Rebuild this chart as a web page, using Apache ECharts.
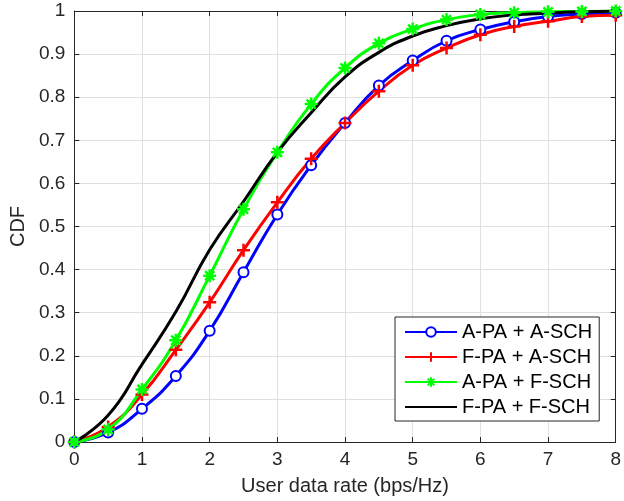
<!DOCTYPE html>
<html>
<head>
<meta charset="utf-8">
<script src="https://cdn.jsdelivr.net/npm/echarts@6/dist/echarts.min.js"></script>
<style>html,body{margin:0;padding:0;background:#fff;}#c{width:624px;height:501px;}</style>
</head>
<body>
<div id="c"></div>
<script>
const xVals = [0,0.5,1,1.5,2,2.5,3,3.5,4,4.5,5,5.5,6,6.5,7,7.5,8];
const seriesNames = ['A-PA + A-SCH','F-PA + A-SCH','A-PA + F-SCH','F-PA + F-SCH'];
const blueVals  = [0,0.022,0.077,0.153,0.258,0.394,0.528,0.642,0.740,0.827,0.885,0.931,0.957,0.975,0.987,0.993,0.996];
const redVals   = [0,0.035,0.110,0.214,0.324,0.445,0.556,0.657,0.740,0.814,0.874,0.914,0.945,0.964,0.976,0.987,0.990];
const greenVals = [0,0.029,0.122,0.236,0.386,0.540,0.672,0.784,0.868,0.925,0.958,0.980,0.992,0.996,0.998,0.999,1.000];
const blackVals = [0,0.062,0.180,0.302,0.446,0.558,0.672,0.764,0.847,0.904,0.942,0.966,0.982,0.991,0.995,0.998,1.000];
const xTicks = [0,1,2,3,4,5,6,7,8];

const axisColor = '#262626';
const font = 'Liberation Sans, Arial, sans-serif';
const pair = vals => xVals.map((x,i)=>[x, vals[i]]);

const plusPath = 'path://M0,5L10,5M5,0L5,10';
const starPath = 'path://M0,5L10,5M5,0L5,10M1.5,1.5L8.5,8.5M1.5,8.5L8.5,1.5';

const chart = echarts.init(document.getElementById('c'), null, {renderer:'canvas'});
const baseX = {type:'value', min:0, max:8, interval:1};
const baseY = {type:'value', min:0, max:1, interval:0.1};
chart.setOption({
  animation:false,
  backgroundColor:'#fff',
  grid:{left:73, right:5, top:11, bottom:58, containLabel:false},
  xAxis:[
    Object.assign({}, baseX, {position:'bottom',
      name:'User data rate (bps/Hz)', nameLocation:'middle', nameGap:34,
      nameTextStyle:{color:axisColor, fontSize:20, fontFamily:font},
      axisLine:{show:true, onZero:false, lineStyle:{color:axisColor, width:1}},
      axisTick:{show:true, inside:true, length:5, lineStyle:{color:axisColor}},
      axisLabel:{color:axisColor, fontSize:19, fontFamily:font, margin:8,
        formatter: v => xTicks.includes(v) ? String(v) : ''},
      splitLine:{show:true, lineStyle:{color:'#e0e0e0', width:1}}}),
    Object.assign({}, baseX, {position:'top',
      axisLine:{show:true, onZero:false, lineStyle:{color:axisColor, width:1}},
      axisTick:{show:true, inside:true, length:5, lineStyle:{color:axisColor}},
      axisLabel:{show:false}, splitLine:{show:false}})
  ],
  yAxis:[
    Object.assign({}, baseY, {position:'left',
      name:'CDF', nameLocation:'middle', nameGap:43,
      nameTextStyle:{color:axisColor, fontSize:20, fontFamily:font},
      axisLine:{show:true, onZero:false, lineStyle:{color:axisColor, width:1}},
      axisTick:{show:true, inside:true, length:5, lineStyle:{color:axisColor}},
      axisLabel:{color:axisColor, fontSize:19, fontFamily:font, margin:9},
      splitLine:{show:true, lineStyle:{color:'#e0e0e0', width:1}}}),
    Object.assign({}, baseY, {position:'right',
      axisLine:{show:true, onZero:false, lineStyle:{color:axisColor, width:1}},
      axisTick:{show:true, inside:true, length:5, lineStyle:{color:axisColor}},
      axisLabel:{show:false}, splitLine:{show:false}})
  ],
  legend:{
    orient:'vertical', left:395, top:317,
    backgroundColor:'#fff', borderColor:axisColor, borderWidth:1,
    padding:[5,7,4,9], itemGap:5, itemWidth:52, itemHeight:12,
    textStyle:{color:'#000', fontSize:20, fontFamily:font},
    data: [
      {name:seriesNames[0]},
      {name:seriesNames[1]},
      {name:seriesNames[2]},
      {name:seriesNames[3], itemStyle:{color:'rgba(0,0,0,0)', borderColor:'rgba(0,0,0,0)', borderWidth:0}}
    ]
  },
  series:[
    {name:seriesNames[0], type:'line', smooth:true, data:pair(blueVals),
      lineStyle:{color:'#0000ff', width:3}, symbol:'emptyCircle', symbolSize:10,
      itemStyle:{color:'#0000ff', borderColor:'#0000ff', borderWidth:2.5}},
    {name:seriesNames[1], type:'line', smooth:true, data:pair(redVals),
      lineStyle:{color:'#ff0000', width:3}, symbol:plusPath, symbolSize:13,
      itemStyle:{color:'none', borderColor:'#ff0000', borderWidth:2.5}},
    {name:seriesNames[2], type:'line', smooth:true, data:pair(greenVals),
      lineStyle:{color:'#00ff00', width:3}, symbol:starPath, symbolSize:13,
      itemStyle:{color:'none', borderColor:'#00ff00', borderWidth:2.5}},
    {name:seriesNames[3], type:'line', smooth:true, data:pair(blackVals),
      lineStyle:{color:'#000000', width:3}, symbol:'none', showSymbol:false,
      itemStyle:{color:'#000000'}}
  ]
});
</script>
</body>
</html>
